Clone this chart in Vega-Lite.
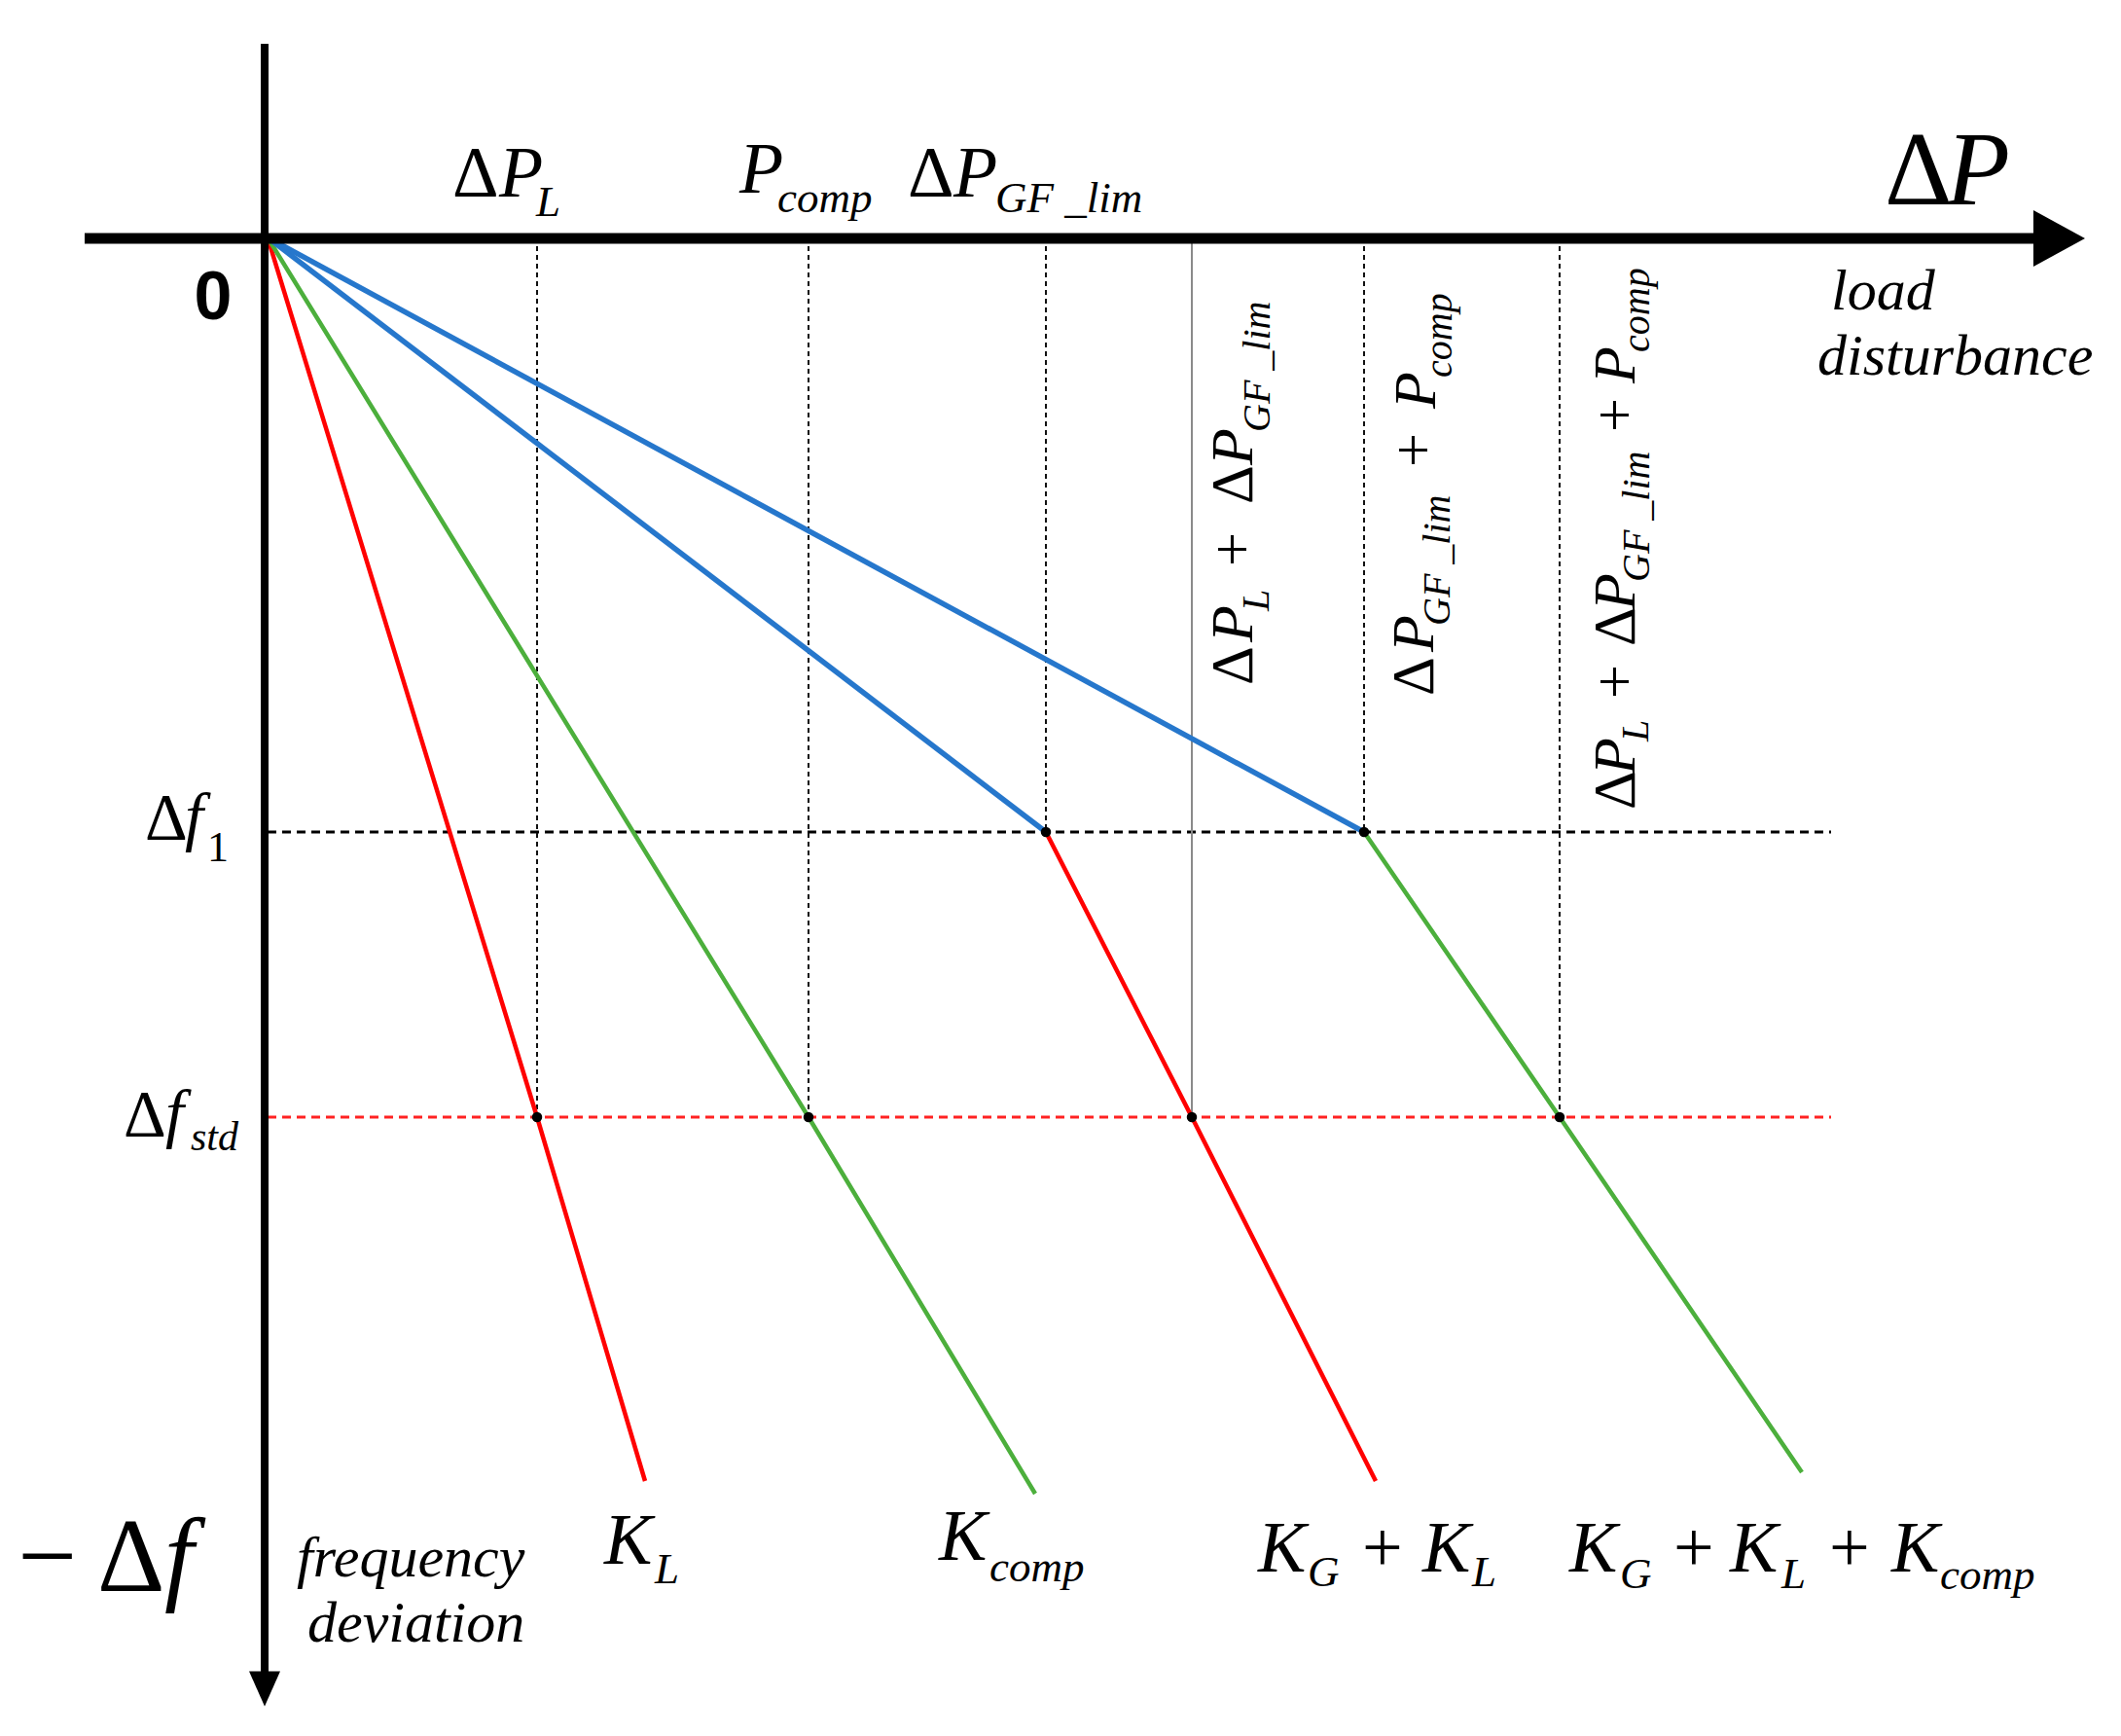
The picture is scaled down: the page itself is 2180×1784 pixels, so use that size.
{
  "$schema": "https://vega.github.io/schema/vega-lite/v6.json",
  "width": 2180,
  "height": 1784,
  "autosize": "none",
  "padding": 0,
  "background": "white",
  "config": {"view": {"stroke": null}},
  "resolve": {"scale": {"color": "independent", "strokeDash": "independent"}},
  "datasets": {
    "levels": [
      {"name": "Δf1", "dp": 0, "dp2": 16.07, "df": 6.11},
      {"name": "Δf_std", "dp": 0, "dp2": 16.07, "df": 9.04}
    ],
    "guides": [
      {"name": "ΔP_L", "kind": "dashed", "dp": 2.77, "df": 0, "df2": 9.04},
      {"name": "P_comp", "kind": "dashed", "dp": 5.56, "df": 0, "df2": 9.04},
      {"name": "ΔP_GF_lim", "kind": "dashed", "dp": 8.0, "df": 0, "df2": 6.11},
      {"name": "ΔP_L+ΔP_GF_lim", "kind": "solid", "dp": 9.5, "df": 0, "df2": 9.04},
      {"name": "ΔP_GF_lim+P_comp", "kind": "dashed", "dp": 11.27, "df": 0, "df2": 6.11},
      {"name": "ΔP_L+ΔP_GF_lim+P_comp", "kind": "dashed", "dp": 13.28, "df": 0, "df2": 9.04}
    ],
    "lines": [
      {"series": "K_L", "order": 1, "dp": 0, "df": 0},
      {"series": "K_L", "order": 2, "dp": 2.77, "df": 9.04},
      {"series": "K_L", "order": 3, "dp": 3.88, "df": 12.78},
      {"series": "K_comp", "order": 1, "dp": 0, "df": 0},
      {"series": "K_comp", "order": 2, "dp": 5.56, "df": 9.04},
      {"series": "K_comp", "order": 3, "dp": 7.89, "df": 12.91},
      {"series": "GF_lim path", "order": 1, "dp": 0, "df": 0},
      {"series": "GF_lim path", "order": 2, "dp": 8.0, "df": 6.11},
      {"series": "K_G+K_L", "order": 1, "dp": 8.0, "df": 6.11},
      {"series": "K_G+K_L", "order": 2, "dp": 9.5, "df": 9.04},
      {"series": "K_G+K_L", "order": 3, "dp": 11.39, "df": 12.78},
      {"series": "GF_lim+comp path", "order": 1, "dp": 0, "df": 0},
      {"series": "GF_lim+comp path", "order": 2, "dp": 11.27, "df": 6.11},
      {"series": "K_G+K_L+K_comp", "order": 1, "dp": 11.27, "df": 6.11},
      {"series": "K_G+K_L+K_comp", "order": 2, "dp": 13.28, "df": 9.04},
      {"series": "K_G+K_L+K_comp", "order": 3, "dp": 15.77, "df": 12.69}
    ],
    "points": [
      {"name": "ΔP_L", "dp": 2.77, "df": 9.04},
      {"name": "P_comp", "dp": 5.56, "df": 9.04},
      {"name": "ΔP_GF_lim", "dp": 8.0, "df": 6.11},
      {"name": "ΔP_L+ΔP_GF_lim", "dp": 9.5, "df": 9.04},
      {"name": "ΔP_GF_lim+P_comp", "dp": 11.27, "df": 6.11},
      {"name": "ΔP_L+ΔP_GF_lim+P_comp", "dp": 13.28, "df": 9.04}
    ],
    "axes": [
      {"name": "ΔP", "dp": -1.88, "dp2": 18.15, "df": 0.01, "df2": 0.01},
      {"name": "−Δf", "dp": -0.03, "dp2": -0.03, "df": -1.99, "df2": 14.76}
    ],
    "arrows": [
      {"name": "ΔP", "dp": 18.39, "df": 0.01},
      {"name": "−Δf", "dp": -0.03, "df": 14.91}
    ],
    "labels": [
      {"text": "Δ", "role": "up", "dp": 1.9, "df": -0.42},
      {"text": "P", "role": "it", "dp": 2.38, "df": -0.42},
      {"text": "L", "role": "sub", "dp": 2.76, "df": -0.22},
      {"text": "P", "role": "it", "dp": 4.85, "df": -0.46},
      {"text": "comp", "role": "sub", "dp": 5.24, "df": -0.26},
      {"text": "Δ", "role": "up", "dp": 6.58, "df": -0.42},
      {"text": "P", "role": "it", "dp": 7.05, "df": -0.42},
      {"text": "GF _lim", "role": "sub", "dp": 7.48, "df": -0.26},
      {"text": "Δ", "role": "big-up", "dp": 16.62, "df": -0.34},
      {"text": "P", "role": "big-it", "dp": 17.25, "df": -0.34},
      {"text": "load", "role": "note", "dp": 16.07, "df": 0.74},
      {"text": "disturbance", "role": "note", "dp": 15.93, "df": 1.41},
      {"text": "0", "role": "zero", "dp": -0.56, "df": 0.84},
      {"text": "Δ", "role": "mid-up", "dp": -1.26, "df": 6.18},
      {"text": "f", "role": "mid-it", "dp": -0.85, "df": 6.18},
      {"text": "1", "role": "mid-sub-up", "dp": -0.62, "df": 6.41},
      {"text": "Δ", "role": "mid-up", "dp": -1.48, "df": 9.23},
      {"text": "f", "role": "mid-it", "dp": -1.05, "df": 9.23},
      {"text": "std", "role": "mid-sub", "dp": -0.79, "df": 9.38},
      {"text": "Δ", "role": "rot-up", "dp": 10.12, "df": 4.6},
      {"text": "P", "role": "rot-it", "dp": 10.12, "df": 4.16},
      {"text": "L", "role": "rot-sub", "dp": 10.29, "df": 3.84},
      {"text": "+", "role": "rot-up", "dp": 10.12, "df": 3.38},
      {"text": "Δ", "role": "rot-up", "dp": 10.12, "df": 2.74},
      {"text": "P", "role": "rot-it", "dp": 10.12, "df": 2.34},
      {"text": "GF _lim", "role": "rot-sub", "dp": 10.3, "df": 2.0},
      {"text": "Δ", "role": "rot-up", "dp": 11.98, "df": 4.71},
      {"text": "P", "role": "rot-it", "dp": 11.98, "df": 4.26},
      {"text": "GF _lim", "role": "rot-sub", "dp": 12.15, "df": 3.99},
      {"text": "+", "role": "rot-up", "dp": 11.98, "df": 2.36},
      {"text": "P", "role": "rot-it", "dp": 12.0, "df": 1.76},
      {"text": "comp", "role": "rot-sub", "dp": 12.17, "df": 1.44},
      {"text": "Δ", "role": "rot-up", "dp": 14.05, "df": 5.88},
      {"text": "P", "role": "rot-it", "dp": 14.05, "df": 5.52},
      {"text": "L", "role": "rot-sub", "dp": 14.19, "df": 5.18},
      {"text": "+", "role": "rot-up", "dp": 14.05, "df": 4.74},
      {"text": "Δ", "role": "rot-up", "dp": 14.05, "df": 4.2},
      {"text": "P", "role": "rot-it", "dp": 14.05, "df": 3.83},
      {"text": "GF _lim", "role": "rot-sub", "dp": 14.2, "df": 3.54},
      {"text": "+", "role": "rot-up", "dp": 14.05, "df": 2.0},
      {"text": "P", "role": "rot-it", "dp": 14.05, "df": 1.5},
      {"text": "comp", "role": "rot-sub", "dp": 14.2, "df": 1.18},
      {"text": "−", "role": "big-up", "dp": -2.57, "df": 13.91},
      {"text": "Δ", "role": "big-up", "dp": -1.75, "df": 13.91},
      {"text": "f", "role": "big-it", "dp": -1.06, "df": 13.91},
      {"text": "frequency", "role": "note", "dp": 0.3, "df": 13.76},
      {"text": "deviation", "role": "note", "dp": 0.41, "df": 14.43},
      {"text": "K", "role": "it", "dp": 3.46, "df": 13.63},
      {"text": "L", "role": "sub", "dp": 3.98, "df": 13.83},
      {"text": "K", "role": "it", "dp": 6.9, "df": 13.59},
      {"text": "comp", "role": "sub", "dp": 7.42, "df": 13.81},
      {"text": "K", "role": "it", "dp": 10.18, "df": 13.71},
      {"text": "G", "role": "sub", "dp": 10.69, "df": 13.86},
      {"text": "+", "role": "up", "dp": 11.25, "df": 13.71},
      {"text": "K", "role": "it", "dp": 11.87, "df": 13.71},
      {"text": "L", "role": "sub", "dp": 12.38, "df": 13.86},
      {"text": "K", "role": "it", "dp": 13.38, "df": 13.71},
      {"text": "G", "role": "sub", "dp": 13.9, "df": 13.88},
      {"text": "+", "role": "up", "dp": 14.45, "df": 13.71},
      {"text": "K", "role": "it", "dp": 15.03, "df": 13.71},
      {"text": "L", "role": "sub", "dp": 15.56, "df": 13.88},
      {"text": "+", "role": "up", "dp": 16.05, "df": 13.71},
      {"text": "K", "role": "it", "dp": 16.69, "df": 13.71},
      {"text": "comp", "role": "sub", "dp": 17.19, "df": 13.89}
    ]
  },
  "encoding": {
    "x": {"field": "dp", "type": "quantitative", "axis": null, "scale": {"domain": [-2.75, 19.05], "nice": false, "zero": false}},
    "y": {"field": "df", "type": "quantitative", "axis": null, "scale": {"domain": [-2.44, 15.4], "nice": false, "zero": false, "reverse": true}}
  },
  "layer": [
    {
      "data": {"name": "levels"},
      "mark": {"type": "rule", "strokeWidth": 3, "strokeDash": [9, 6]},
      "encoding": {
        "x2": {"field": "dp2"},
        "color": {"field": "name", "type": "nominal", "legend": null, "scale": {"domain": ["Δf1", "Δf_std"], "range": ["#000000", "#ff2222"]}}
      }
    },
    {
      "data": {"name": "guides"},
      "mark": {"type": "rule", "strokeWidth": 2},
      "encoding": {
        "y2": {"field": "df2"},
        "color": {"field": "kind", "type": "nominal", "legend": null, "scale": {"domain": ["dashed", "solid"], "range": ["#111111", "#8a8a8a"]}},
        "strokeDash": {"field": "kind", "type": "nominal", "legend": null, "scale": {"domain": ["dashed", "solid"], "range": [[5, 4], [1, 0]]}}
      }
    },
    {
      "data": {"name": "lines"},
      "transform": [{"filter": {"field": "series", "oneOf": ["K_L", "K_comp", "K_G+K_L", "K_G+K_L+K_comp"]}}],
      "mark": {"type": "line", "strokeWidth": 4.5},
      "encoding": {
        "order": {"field": "order"},
        "detail": {"field": "series"},
        "color": {"field": "series", "type": "nominal", "legend": null, "scale": {"domain": ["K_L", "K_comp", "K_G+K_L", "K_G+K_L+K_comp"], "range": ["#ff0000", "#4caf3c", "#ff0000", "#4caf3c"]}}
      }
    },
    {
      "data": {"name": "lines"},
      "transform": [{"filter": {"field": "series", "oneOf": ["GF_lim path", "GF_lim+comp path"]}}],
      "mark": {"type": "line", "strokeWidth": 5.5},
      "encoding": {
        "order": {"field": "order"},
        "detail": {"field": "series"},
        "color": {"field": "series", "type": "nominal", "legend": null, "scale": {"domain": ["GF_lim path", "GF_lim+comp path"], "range": ["#2677cc", "#2677cc"]}}
      }
    },
    {
      "data": {"name": "points"},
      "mark": {"type": "point", "shape": "circle", "filled": true, "color": "#000000", "size": 110, "opacity": 1}
    },
    {
      "data": {"name": "axes"},
      "transform": [{"filter": "datum.name === 'ΔP'"}],
      "mark": {"type": "rule", "strokeWidth": 11, "color": "#000000"},
      "encoding": {"x2": {"field": "dp2"}}
    },
    {
      "data": {"name": "axes"},
      "transform": [{"filter": "datum.name === '−Δf'"}],
      "mark": {"type": "rule", "strokeWidth": 8, "color": "#000000"},
      "encoding": {"y2": {"field": "df2"}}
    },
    {
      "data": {"name": "arrows"},
      "transform": [{"filter": "datum.name === 'ΔP'"}],
      "mark": {"type": "point", "filled": true, "color": "#000000", "opacity": 1, "size": 3364, "shape": "M -0.83,-1 L 1,0 L -0.83,1 Z"}
    },
    {
      "data": {"name": "arrows"},
      "transform": [{"filter": "datum.name === '−Δf'"}],
      "mark": {"type": "point", "filled": true, "color": "#000000", "opacity": 1, "size": 1024, "shape": "M -1,-1.1 L 0,1.15 L 1,-1.1 Z"}
    },
    {
      "data": {"name": "labels"},
      "transform": [{"filter": "datum.role === 'up'"}],
      "mark": {"type": "text", "font": "Liberation Serif", "fontSize": 74, "align": "left", "baseline": "alphabetic", "color": "#000000"},
      "encoding": {"text": {"field": "text"}}
    },
    {
      "data": {"name": "labels"},
      "transform": [{"filter": "datum.role === 'it'"}],
      "mark": {"type": "text", "font": "Liberation Serif", "fontStyle": "italic", "fontSize": 74, "align": "left", "baseline": "alphabetic", "color": "#000000"},
      "encoding": {"text": {"field": "text"}}
    },
    {
      "data": {"name": "labels"},
      "transform": [{"filter": "datum.role === 'sub'"}],
      "mark": {"type": "text", "font": "Liberation Serif", "fontStyle": "italic", "fontSize": 45, "align": "left", "baseline": "alphabetic", "color": "#000000"},
      "encoding": {"text": {"field": "text"}}
    },
    {
      "data": {"name": "labels"},
      "transform": [{"filter": "datum.role === 'big-up'"}],
      "mark": {"type": "text", "font": "Liberation Serif", "fontSize": 108, "align": "left", "baseline": "alphabetic", "color": "#000000"},
      "encoding": {"text": {"field": "text"}}
    },
    {
      "data": {"name": "labels"},
      "transform": [{"filter": "datum.role === 'big-it'"}],
      "mark": {"type": "text", "font": "Liberation Serif", "fontStyle": "italic", "fontSize": 108, "align": "left", "baseline": "alphabetic", "color": "#000000"},
      "encoding": {"text": {"field": "text"}}
    },
    {
      "data": {"name": "labels"},
      "transform": [{"filter": "datum.role === 'mid-up'"}],
      "mark": {"type": "text", "font": "Liberation Serif", "fontSize": 68, "align": "left", "baseline": "alphabetic", "color": "#000000"},
      "encoding": {"text": {"field": "text"}}
    },
    {
      "data": {"name": "labels"},
      "transform": [{"filter": "datum.role === 'mid-it'"}],
      "mark": {"type": "text", "font": "Liberation Serif", "fontStyle": "italic", "fontSize": 68, "align": "left", "baseline": "alphabetic", "color": "#000000"},
      "encoding": {"text": {"field": "text"}}
    },
    {
      "data": {"name": "labels"},
      "transform": [{"filter": "datum.role === 'mid-sub'"}],
      "mark": {"type": "text", "font": "Liberation Serif", "fontStyle": "italic", "fontSize": 42, "align": "left", "baseline": "alphabetic", "color": "#000000"},
      "encoding": {"text": {"field": "text"}}
    },
    {
      "data": {"name": "labels"},
      "transform": [{"filter": "datum.role === 'mid-sub-up'"}],
      "mark": {"type": "text", "font": "Liberation Serif", "fontSize": 44, "align": "left", "baseline": "alphabetic", "color": "#000000"},
      "encoding": {"text": {"field": "text"}}
    },
    {
      "data": {"name": "labels"},
      "transform": [{"filter": "datum.role === 'note'"}],
      "mark": {"type": "text", "font": "Liberation Serif", "fontStyle": "italic", "fontSize": 60, "align": "left", "baseline": "alphabetic", "color": "#000000"},
      "encoding": {"text": {"field": "text"}}
    },
    {
      "data": {"name": "labels"},
      "transform": [{"filter": "datum.role === 'zero'"}],
      "mark": {"type": "text", "font": "Liberation Sans", "fontWeight": "bold", "fontSize": 70, "align": "center", "baseline": "alphabetic", "color": "#000000"},
      "encoding": {"text": {"field": "text"}}
    },
    {
      "data": {"name": "labels"},
      "transform": [{"filter": "datum.role === 'rot-up'"}],
      "mark": {"type": "text", "font": "Liberation Serif", "fontSize": 62, "angle": 270, "align": "left", "baseline": "alphabetic", "color": "#000000"},
      "encoding": {"text": {"field": "text"}}
    },
    {
      "data": {"name": "labels"},
      "transform": [{"filter": "datum.role === 'rot-it'"}],
      "mark": {"type": "text", "font": "Liberation Serif", "fontStyle": "italic", "fontSize": 62, "angle": 270, "align": "left", "baseline": "alphabetic", "color": "#000000"},
      "encoding": {"text": {"field": "text"}}
    },
    {
      "data": {"name": "labels"},
      "transform": [{"filter": "datum.role === 'rot-sub'"}],
      "mark": {"type": "text", "font": "Liberation Serif", "fontStyle": "italic", "fontSize": 40, "angle": 270, "align": "left", "baseline": "alphabetic", "color": "#000000"},
      "encoding": {"text": {"field": "text"}}
    }
  ]
}
